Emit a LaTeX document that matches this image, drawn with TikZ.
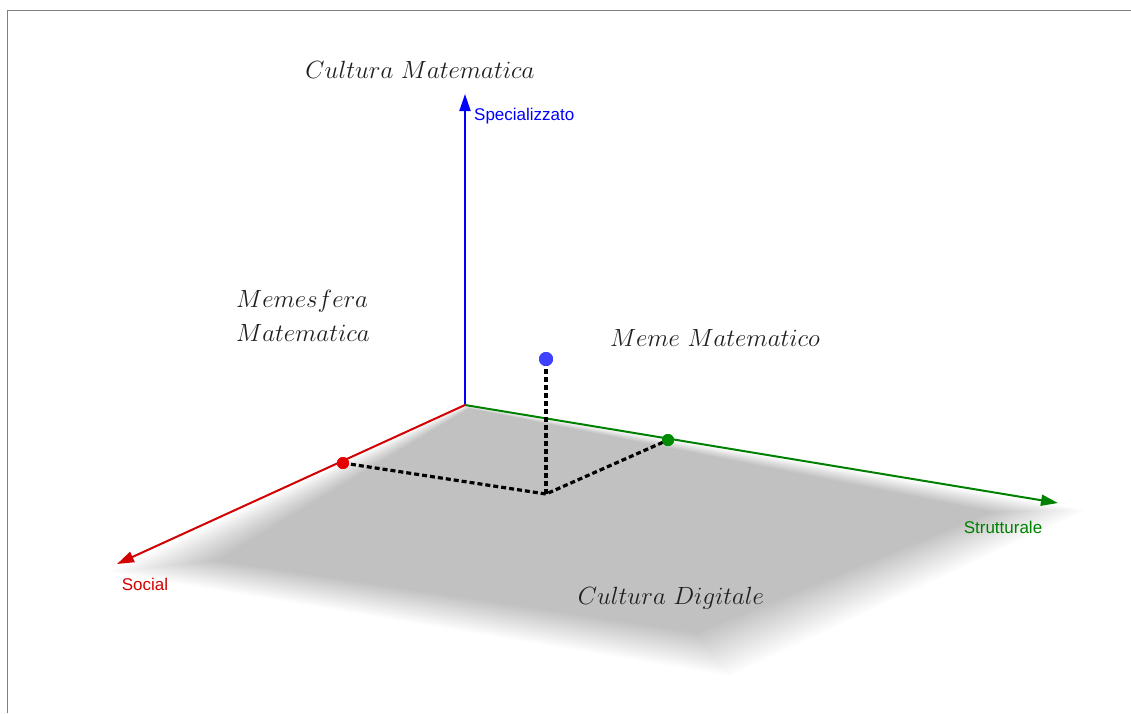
\documentclass[tikz,border=0pt]{standalone}
\usepackage{fontspec}
\newfontfamily\arialf{Liberation Sans}
\usetikzlibrary{arrows.meta,calc}
\definecolor{ggblue}{RGB}{0,0,255}
\definecolor{ggred}{RGB}{210,0,0}
\definecolor{gggreen}{RGB}{0,128,0}
\definecolor{ptblue}{RGB}{64,64,255}
\definecolor{ptred}{RGB}{230,0,0}
\definecolor{ptgreen}{RGB}{0,140,0}
\definecolor{framegray}{RGB}{128,128,128}
\tikzset{
  axis/.style={line width=2pt,-{Triangle[length=17pt,width=11pt]}},
  axlabel/.style={font=\fontsize{17}{20}\selectfont\arialf,inner sep=0pt},
  mathlabel/.style={font=\Huge,text=black!88,inner sep=0pt},
  pt/.style={circle,inner sep=0pt,minimum size=#1},
  proj/.style={line width=3.2pt,dash pattern=on 5pt off 3pt,black},
}
\begin{document}
\begin{tikzpicture}[x=1pt,y=-1pt]
\useasboundingbox (0,0) rectangle (1131,713);
% frame
\draw[framegray,line width=1.6pt] (7.5,713) -- (7.5,10.5) -- (1131,10.5);
% plane with soft edges
\coordinate (O) at (465,405);
\coordinate (L) at (108,572);
\coordinate (B) at (730,676);
\coordinate (R) at (1086,510);
\coordinate (C) at (610,520);
\foreach \t in {0,0.033,...,1.0}{
  \fill[black,opacity=0.0088]
    ($(C)!{1-0.03*\t}!(O)$) -- ($(C)!{1-0.22*\t}!(L)$) -- ($(C)!{1-0.28*\t}!(B)$) -- ($(C)!{1-0.2*\t}!(R)$) -- cycle;
}
% axes
\coordinate (ztip) at (465,94);
\coordinate (xtip) at (117,564);
\coordinate (ytip) at (1058,503);
\draw[axis,ggblue] (O) -- (ztip);
\draw[axis,ggred] (O) -- (xtip);
\draw[axis,gggreen] (O) -- (ytip);
% axis labels
\node[axlabel,text=ggblue,anchor=west] (lz) at (474,116) {Specializzato};
\node[axlabel,text=ggred] (lx) at (145,584) {Social};
\node[axlabel,text=gggreen] (ly) at (1003,527) {Strutturale};
% projection lines
\coordinate (foot) at (546,494);
\node[pt=12pt,fill=ptred] (pr) at (343,463) {};
\node[pt=12pt,fill=ptgreen] (pg) at (668,440) {};
\node[pt=14pt,fill=ptblue] (pb) at (546,359) {};
\draw[proj] (pr.center) -- (foot) -- (pg.center);
\draw[proj] (foot) -- (pb.center);
\node[pt=12pt,fill=ptred] at (pr) {};
\node[pt=12pt,fill=ptgreen] at (pg) {};
\node[pt=14pt,fill=ptblue] at (pb) {};
% texts
\node[mathlabel] (cm) at (420,70) {$Cultura\ Matematica$};
\node[mathlabel,anchor=west] (mm1) at (236,301) {$Memesfera$};
\node[mathlabel,anchor=west] (mm2) at (236,333) {$Matematica$};
\node[mathlabel] (meme) at (715,338) {$Meme\ Matematico$};
\node[mathlabel] (cd) at (671,598) {$Cultura\ Digitale$};
\end{tikzpicture}
\end{document}
